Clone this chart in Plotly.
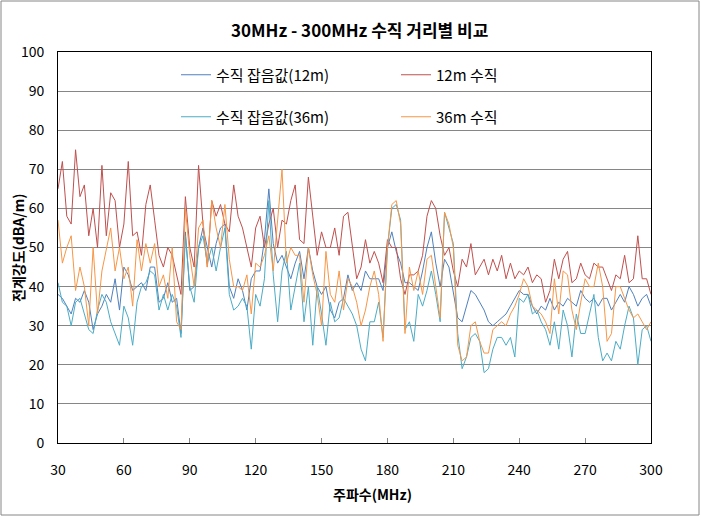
import plotly.graph_objects as go

freq = list(range(30, 301, 2))

noise_12m = [38, 37, 35, 33, 37, 36, 39, 36, 29, 33, 35, 38, 36, 42, 34, 45, 43, 39, 40, 41, 39, 45, 45,
             36, 37, 41, 36, 37, 28, 54, 39, 40, 50, 55, 50, 45, 51, 55, 56, 40, 37, 42, 39, 34,
             42, 44, 44, 52, 65, 51, 46, 48, 45, 42, 46, 49, 42, 50, 44, 40, 38, 40, 34, 32, 36, 37,
             43, 39, 41, 39, 44, 42, 42, 42, 39, 50, 54, 49, 46, 41, 41, 40, 39, 44, 50, 54, 46, 40,
             47, 45, 38, 32, 31, 35, 39, 38, 36, 34, 31, 30, 31, 32, 33, 35, 37, 39, 38, 38, 35,
             33, 35, 34, 37, 34, 36, 35, 37, 36, 35, 39, 37, 36, 37, 35, 37, 37, 34, 36, 38, 36, 40, 38, 35, 37, 38, 35]

v_12m = [65, 72, 58, 56, 75, 63, 66, 53, 60, 50, 71, 53, 64, 62, 50, 56, 72, 53, 54, 48, 61, 66, 57,
         48, 45, 50, 48, 43, 38, 63, 50, 45, 71, 56, 45, 62, 58, 61, 56, 54, 66, 58, 55, 50,
         45, 55, 58, 50, 56, 60, 50, 57, 56, 62, 66, 52, 51, 68, 58, 48, 54, 50, 50, 55, 48, 58,
         59, 50, 42, 45, 52, 46, 49, 46, 41, 52, 50, 50, 42, 38, 43, 43, 44, 48, 58, 62, 60, 53,
         48, 50, 44, 40, 47, 45, 51, 43, 45, 47, 43, 47, 44, 48, 42, 46, 42, 44, 43, 45, 41,
         43, 42, 36, 39, 47, 42, 47, 49, 41, 42, 46, 43, 42, 46, 45, 45, 42, 39, 43, 42, 48, 41, 42, 53, 42, 42, 38]

noise_36m = [41, 36, 35, 30, 36, 37, 33, 29, 28, 34, 38, 36, 31, 28, 25, 35, 32, 25, 36, 40, 41, 44, 43,
             34, 38, 34, 38, 35, 27, 53, 40, 36, 50, 53, 46, 50, 44, 50, 55, 38, 34, 35, 37, 35,
             24, 38, 35, 42, 62, 43, 31, 44, 49, 34, 40, 46, 31, 40, 25, 40, 33, 25, 36, 31, 32, 37,
             35, 33, 30, 24, 21, 31, 31, 36, 27, 50, 60, 61, 57, 29, 31, 26, 38, 35, 39, 44, 38, 31,
             59, 55, 51, 28, 19, 22, 27, 28, 26, 18, 19, 24, 27, 27, 25, 27, 22, 37, 36, 38, 33,
             34, 31, 29, 25, 31, 24, 34, 30, 22, 33, 28, 28, 33, 38, 27, 21, 23, 21, 26, 24, 30, 35, 32, 20, 29, 30, 26]

v_36m = [57, 46, 50, 53, 39, 45, 40, 30, 50, 33, 44, 50, 55, 44, 50, 42, 45, 35, 52, 44, 51, 46, 51,
         40, 43, 37, 50, 31, 29, 60, 48, 40, 55, 57, 45, 62, 55, 50, 61, 47, 40, 40, 39, 43,
         33, 46, 45, 48, 53, 44, 58, 70, 46, 50, 48, 48, 36, 50, 43, 38, 30, 49, 38, 36, 44, 34,
         42, 40, 36, 30, 34, 40, 44, 38, 26, 50, 61, 62, 56, 28, 45, 39, 44, 38, 47, 48, 40, 32,
         59, 56, 50, 25, 21, 22, 30, 31, 26, 23, 23, 29, 30, 31, 30, 33, 35, 38, 42, 40, 35,
         34, 33, 31, 28, 42, 33, 44, 43, 34, 29, 36, 42, 40, 40, 46, 40, 26, 28, 40, 40, 37, 34, 32, 33, 31, 29, 31]

series_names = ["수직 잡음값(12m)", "12m 수직", "수직 잡음값(36m)", "36m 수직"]
series_values = [noise_12m, v_12m, noise_36m, v_36m]
series_colors = ["#4F81BD", "#C0504D", "#4BACC6", "#F79646"]
series_legend = ["legend", "legend2", "legend3", "legend4"]

x_ticks = [30, 60, 90, 120, 150, 180, 210, 240, 270, 300]
y_ticks = [0, 10, 20, 30, 40, 50, 60, 70, 80, 90, 100]

FONT = "Noto Sans CJK KR"

fig = go.Figure()
for name, vals, col, lg in zip(series_names, series_values, series_colors, series_legend):
    fig.add_trace(go.Scatter(x=freq, y=vals, mode="lines", name=name,
                             line=dict(color=col, width=1), legend=lg))

L, R, T, B = 58, 651, 52, 443
W, H = 701, 517
pw, ph = R - L, B - T

def px(x):
    return (x - L) / pw

def py(y):
    return (B - y) / ph

def leg(xp, yp):
    return dict(x=px(xp), y=py(yp), xanchor="left", yanchor="middle",
                bgcolor="rgba(0,0,0,0)", font=dict(family=FONT, size=15),
                itemclick=False, itemdoubleclick=False, tracegroupgap=0)

fig.update_layout(
    width=W, height=H,
    margin=dict(l=L, r=W - R, t=T, b=H - B, autoexpand=False),
    paper_bgcolor="white", plot_bgcolor="white",
    font=dict(family=FONT, size=14, color="black"),
    showlegend=True,
    legend=leg(176, 75),
    legend2=leg(396, 75),
    legend3=leg(176, 117),
    legend4=leg(396, 117),
    xaxis=dict(range=[30, 300], tickvals=x_ticks, showgrid=False, zeroline=False,
               showline=True, linecolor="black", linewidth=1, mirror=True, automargin=False,
               ticks="inside", ticklen=5, tickcolor="#868686", ticklabelstandoff=14,
               tickfont=dict(family=FONT, size=14)),
    yaxis=dict(range=[0, 100], tickvals=y_ticks, showgrid=True, gridcolor="#868686", gridwidth=1,
               zeroline=False, showline=True, linecolor="black", linewidth=1, mirror=True,
               automargin=False, ticks="", ticklabelstandoff=10, tickfont=dict(family=FONT, size=14)),
    annotations=[
        dict(text="<b>30MHz - 300MHz 수직 거리별 비교</b>", x=px(360), y=py(30), xref="paper", yref="paper",
             showarrow=False, font=dict(family=FONT, size=17), xanchor="center", yanchor="middle"),
        dict(text="<b>주파수(MHz)</b>", x=px(372), y=py(494), xref="paper", yref="paper",
             showarrow=False, font=dict(family=FONT, size=14), xanchor="center", yanchor="middle"),
        dict(text="<b>전계강도(dBA/m)</b>", x=px(18), y=py(248), xref="paper", yref="paper",
             showarrow=False, font=dict(family=FONT, size=14), textangle=-90,
             xanchor="center", yanchor="middle"),
    ],
    shapes=[dict(type="rect", xref="paper", yref="paper", x0=px(1), x1=px(699), y0=py(515), y1=py(1),
                 line=dict(color="#868686", width=1), fillcolor="rgba(0,0,0,0)", layer="below")],
)

fig.write_html("out.html", config={"displayModeBar": False},
               post_script="document.body.style.margin='0';document.body.style.padding='0';")
